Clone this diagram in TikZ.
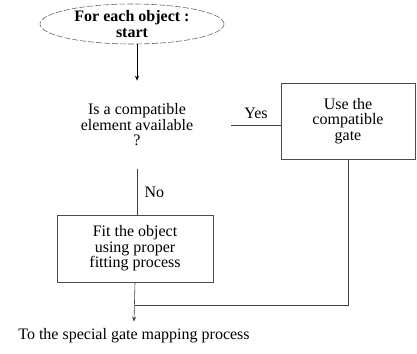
\documentclass[tikz,border=0pt]{standalone}
\usepackage{fontspec}
\setmainfont{Liberation Serif}
\usetikzlibrary{shapes.geometric,arrows.meta}
\begin{document}
\begin{tikzpicture}[x=1pt,y=-1pt,
  txt/.style={font=\fontsize{16}{15.5}\selectfont, align=center},
  link/.style={draw=black!75, line width=0.6pt},
  boxed/.style={txt, draw=black!70, line width=0.6pt, rectangle, inner sep=0pt},
  tip/.style={-{Stealth[length=5pt,width=4pt]}}
]
\useasboundingbox (0,0) rectangle (417,353);

% start terminal
\node[txt, ellipse, draw=black!60, line width=0.6pt, dash pattern=on 6pt off 2pt,
      minimum width=184pt, minimum height=40pt, inner sep=0pt]
  (start) at (132,24) {\bfseries For each object :\\\bfseries start};

% decision
\node[txt, inner ysep=23pt, inner xsep=38pt] (dec) at (137,125)
  {Is a compatible\\element available\\?};

% process boxes
\node[boxed, minimum width=156pt, minimum height=67pt] (fit) at (135,248.5)
  {Fit the object\\using proper\\fitting process};
\node[boxed, minimum width=134pt, minimum height=76pt] (use) at (348,121)
  {Use the\\compatible\\gate};

% output text
\node[txt, inner ysep=7pt] (out) at (134,336) {To the special gate mapping process};

\coordinate (merge) at (fit.south |- 0,305);

% connectors
\draw[link, tip, draw=black] (start.south -| dec.north) -- (dec.north);
\draw[link] (dec.east) -- (dec.east -| use.west)
  node[txt, midway, above=3pt] {Yes};
\draw[link] (dec.south) -- (dec.south |- fit.north)
  node[txt, midway, right=4pt] {No};
\draw[link] (use.south) |- (merge);
\draw[link, tip] (fit.south) -- (out.north);
\end{tikzpicture}
\end{document}
